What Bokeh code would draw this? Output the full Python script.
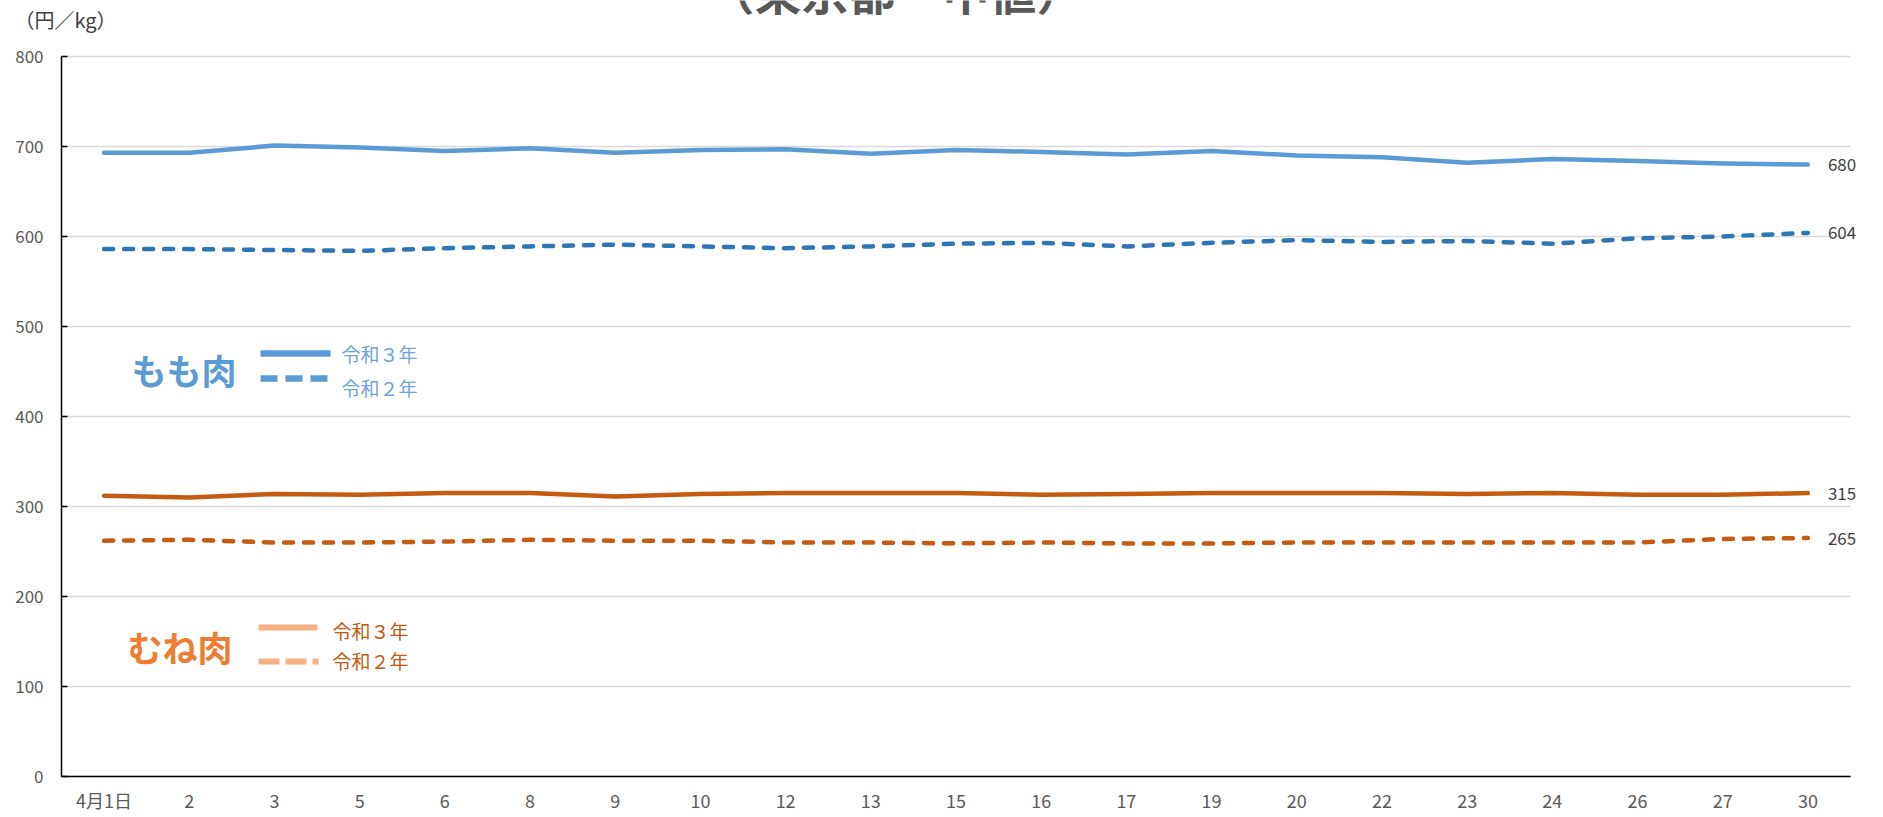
from bokeh.plotting import figure
from bokeh.models import Range1d, FixedTicker, Label, ColumnDataSource
from bokeh.core.properties import value
from bokeh.embed import file_html
from bokeh.resources import INLINE

# ---- data ----
days = ["4月1日", "2", "3", "5", "6", "8", "9", "10", "12", "13", "15",
        "16", "17", "19", "20", "22", "23", "24", "26", "27", "30"]
momo_r3 = [693, 693, 701, 699, 695, 698, 693, 696, 697, 692, 696,
           694, 691, 695, 690, 688, 682, 686, 684, 681, 680]
momo_r2 = [586, 586, 585, 584, 587, 589, 591, 589, 587, 589, 592,
           593, 589, 593, 596, 594, 595, 592, 598, 600, 604]
mune_r3 = [312, 310, 314, 313, 315, 315, 311, 314, 315, 315, 315,
           313, 314, 315, 315, 315, 314, 315, 313, 313, 315]
mune_r2 = [262, 263, 260, 260, 261, 263, 262, 262, 260, 260, 259,
           260, 259, 259, 260, 260, 260, 260, 260, 264, 265]
y_ticks = [0, 100, 200, 300, 400, 500, 600, 700, 800]
y_tick_labels = [str(t) for t in y_ticks]
title_text = "（東京都・中値）"
unit_text = "（円／kg）"
legend_r3 = "令和３年"
legend_r2 = "令和２年"

JP = "Noto Sans CJK JP"
BLUE = "#5B9BD5"
BLUE_D = "#2E75B6"
ORANGE_D = "#C55A11"
ORANGE = "#ED7D31"
ORANGE_L = "#F4B183"

W, H = 1883, 817
# layout (page pixels): category band 85.19 px, first band starts at x=61;
# value 0 at y=776, 0.9 px per unit
BAND = 85.19
X0 = 61
PX_PER_UNIT = 0.9
Y0 = 776
FRAME_B = 786

n = len(days)
xs = list(range(n))
src = ColumnDataSource(dict(x=xs, momo_r3=momo_r3, momo_r2=momo_r2,
                            mune_r3=mune_r3, mune_r2=mune_r2))


def X(px):
    return (px - X0) / BAND - 0.5


def Y(py):
    return (Y0 - py) / PX_PER_UNIT


p = figure(width=W, height=H,
           x_range=Range1d(X(0), X(W)), y_range=Range1d(Y(FRAME_B), Y(0)),
           output_backend="svg", toolbar_location=None,
           min_border_left=0, min_border_right=0,
           min_border_top=0, min_border_bottom=H - FRAME_B)
p.outline_line_color = None
p.background_fill_color = "white"
p.border_fill_color = "white"

# x axis (labels from Bokeh; axis line drawn below to stop at the data area)
p.xaxis.ticker = FixedTicker(ticks=xs)
p.xaxis.major_label_overrides = {i: d for i, d in enumerate(days)}
p.xaxis.major_tick_in = 0
p.xaxis.major_tick_out = 0
p.xaxis.minor_tick_line_color = None
p.xaxis.axis_line_color = None
p.xaxis.major_label_standoff = 0
p.xaxis.major_label_text_font = JP
p.xaxis.major_label_text_font_size = "18px"
p.xaxis.major_label_text_color = "#595959"

# y axis drawn inside the frame so the unit text at the top-left is not clipped
p.yaxis.visible = False
p.xgrid.visible = False
p.ygrid.visible = False

# gridlines across the category area only
p.segment(x0=[-0.5] * len(y_ticks), x1=[n - 0.5] * len(y_ticks),
          y0=y_ticks, y1=y_ticks, line_color="#D9D9D9", line_width=1.3)
# y tick marks (inward) and labels
p.segment(x0=[-0.5] * len(y_ticks), x1=[X(67)] * len(y_ticks),
          y0=y_ticks, y1=y_ticks, line_color="black", line_width=1.5)
p.text(x=[X(43)] * len(y_ticks), y=y_ticks, text=y_tick_labels,
       text_align="right", text_baseline="middle", text_font=value(JP),
       text_font_size="17px", text_color="#595959")
# axis lines
p.segment(x0=[-0.5], x1=[-0.5], y0=[y_ticks[0]], y1=[y_ticks[-1]],
          line_color="black", line_width=1.5)
p.segment(x0=[-0.5], x1=[n - 0.5], y0=[y_ticks[0]], y1=[y_ticks[0]],
          line_color="black", line_width=1.5)

# series
p.line("x", "momo_r3", source=src, line_color=BLUE, line_width=4.5,
       line_join="round", line_cap="round")
p.line("x", "momo_r2", source=src, line_color=BLUE_D, line_width=4.5,
       line_dash="9 11", line_join="round", line_cap="round")
p.line("x", "mune_r3", source=src, line_color=ORANGE_D, line_width=4.5,
       line_join="round", line_cap="round")
p.line("x", "mune_r2", source=src, line_color=ORANGE_D, line_width=4.5,
       line_dash="9 11", line_join="round", line_cap="round")

# end value labels
last = n - 1
for arr in (momo_r3, momo_r2, mune_r3, mune_r2):
    p.add_layout(Label(x=last, y=arr[last], x_offset=20, text=str(arr[last]),
                       text_baseline="middle", text_align="left",
                       text_font=JP, text_font_size="17px",
                       text_color="#404040"))

# title (cut by top of page) and unit
p.add_layout(Label(x=X(895), y=Y(23), text=title_text, text_align="center",
                   text_baseline="bottom", text_font=JP, text_font_size="47px",
                   text_font_style="bold", text_color="#595959"))
p.add_layout(Label(x=X(14), y=Y(19), text=unit_text, text_align="left",
                   text_baseline="middle", text_font=JP, text_font_size="20px",
                   text_color="#404040"))

# custom legend: もも肉
p.add_layout(Label(x=X(131), y=Y(369), text="もも肉", text_align="left",
                   text_baseline="middle", text_font=JP, text_font_size="35px",
                   text_font_style="bold", text_color=BLUE))
p.line([X(260), X(330)], [Y(353), Y(353)], line_color=BLUE, line_width=6.5)
p.line([X(260), X(330)], [Y(378), Y(378)], line_color=BLUE, line_width=6.5,
       line_dash="17 8")
p.add_layout(Label(x=X(341), y=Y(353), text=legend_r3, text_align="left",
                   text_baseline="middle", text_font=JP, text_font_size="19px",
                   text_color="#6FA3DA"))
p.add_layout(Label(x=X(341), y=Y(387), text=legend_r2, text_align="left",
                   text_baseline="middle", text_font=JP, text_font_size="19px",
                   text_color="#6FA3DA"))

# custom legend: むね肉
p.add_layout(Label(x=X(127), y=Y(646), text="むね肉", text_align="left",
                   text_baseline="middle", text_font=JP, text_font_size="35px",
                   text_font_style="bold", text_color=ORANGE))
p.line([X(258), X(317)], [Y(627), Y(627)], line_color=ORANGE_L, line_width=6)
p.line([X(258), X(318)], [Y(661), Y(661)], line_color=ORANGE_L, line_width=6,
       line_dash="21 6")
p.add_layout(Label(x=X(332), y=Y(630), text=legend_r3, text_align="left",
                   text_baseline="middle", text_font=JP, text_font_size="19px",
                   text_color=ORANGE_D))
p.add_layout(Label(x=X(332), y=Y(660), text=legend_r2, text_align="left",
                   text_baseline="middle", text_font=JP, text_font_size="19px",
                   text_color=ORANGE_D))

open("out.html", "w").write(file_html(p, INLINE))
